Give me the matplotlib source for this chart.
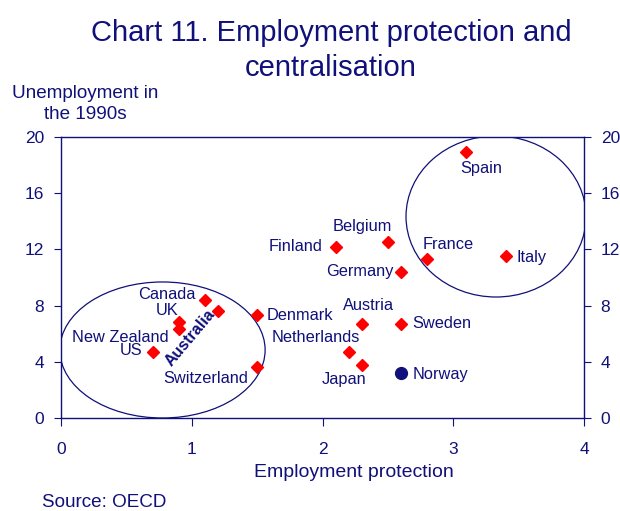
import matplotlib
matplotlib.use("Agg")
import matplotlib.pyplot as plt
from matplotlib.patches import Ellipse

matplotlib.rcParams["font.family"] = ["Liberation Sans", "DejaVu Sans"]

NAVY = "#10107a"
RED = "#ff0000"

# Data
countries = ["Spain", "Italy", "France", "Belgium", "Finland", "Germany",
             "Austria", "Sweden", "Denmark", "Netherlands", "Japan",
             "Switzerland", "Canada", "UK", "New Zealand", "US", "Australia"]
emp_protection = [3.1, 3.4, 2.8, 2.5, 2.1, 2.6, 2.3, 2.6, 1.5, 2.2, 2.3,
                  1.5, 1.1, 0.9, 0.9, 0.7, 1.2]
unemployment = [18.9, 11.5, 11.3, 12.5, 12.2, 10.4, 6.7, 6.7, 7.3, 4.7, 3.8,
                3.6, 8.4, 6.8, 6.3, 4.7, 7.6]
norway = ("Norway", 2.6, 3.2)

x_ticks = [0, 1, 2, 3, 4]
y_ticks = [0, 4, 8, 12, 16, 20]

# label offsets in pixels relative to the marker, and alignment
label_pos = {
    "Spain": (15, -16, "center"), "Italy": (11, -1, "left"),
    "France": (21, 15, "center"), "Belgium": (-26, 16, "center"),
    "Finland": (-13, 0, "right"), "Germany": (-7, 0, "right"),
    "Austria": (7, 18, "center"), "Sweden": (11, 0, "left"),
    "Denmark": (9, 0, "left"), "Netherlands": (-33, 14, "center"),
    "Japan": (-18, -15, "center"), "Switzerland": (-51, -11, "center"),
    "Canada": (-38, 5, "center"), "UK": (-12, 12, "center"),
    "New Zealand": (-58, -8, "center"), "US": (-21, 1, "center"),
    "Australia": (-28, -27, "center"),
}

fig = plt.figure(figsize=(6.2, 5.11), dpi=100)
ax = fig.add_axes([0.0984, 0.182, 0.8436, 0.550])

ax.plot(emp_protection, unemployment, "D", color=RED, ms=6, mec=RED, zorder=3)
ax.plot([norway[1]], [norway[2]], "o", color=NAVY, ms=8.5, zorder=3)

for name, x, y in zip(countries, emp_protection, unemployment):
    dx, dy, ha = label_pos[name]
    if name == "Australia":
        ax.annotate(name, (x, y), xytext=(dx, dy), textcoords="offset pixels",
                    ha="center", va="center", rotation=50, color=NAVY,
                    fontsize=11.5, fontweight="bold")
    else:
        ax.annotate(name, (x, y), xytext=(dx, dy), textcoords="offset pixels",
                    ha=ha, va="center", color=NAVY, fontsize=11.8)
ax.annotate(norway[0], (norway[1], norway[2]), xytext=(12, -1),
            textcoords="offset pixels", ha="left", va="center",
            color=NAVY, fontsize=11.8)

ax.add_patch(Ellipse((0.776, 4.84), 1.57, 9.68, fill=False, ec=NAVY, lw=0.9))
ax.add_patch(Ellipse((3.327, 14.34), 1.377, 11.46, fill=False, ec=NAVY, lw=0.9))

ax.set_xlim(0, 4)
ax.set_ylim(0, 20)
ax.set_xticks(x_ticks)
ax.set_yticks(y_ticks)
ax.tick_params(colors=NAVY, labelcolor=NAVY, labelsize=12.5, direction="out",
               length=5, right=True, labelright=True)
ax.tick_params(axis="x", pad=11, length=6)
ax.tick_params(axis="y", pad=7)
for s in ax.spines.values():
    s.set_color(NAVY)
    s.set_linewidth(1.0)
ax.set_xlabel("Employment protection", color=NAVY, fontsize=14, labelpad=5,
              x=0.56)

fig.text(0.534, 0.962, "Chart 11. Employment protection and\ncentralisation",
         ha="center", va="top", color=NAVY, fontsize=21, linespacing=1.28)
fig.text(0.137, 0.834, "Unemployment in\nthe 1990s", ha="center", va="top",
         color=NAVY, fontsize=13.6, linespacing=1.35)
fig.text(0.068, 0.0, "Source: OECD", ha="left", va="bottom",
         color=NAVY, fontsize=13.6)

fig.savefig("out.png", dpi=100)
